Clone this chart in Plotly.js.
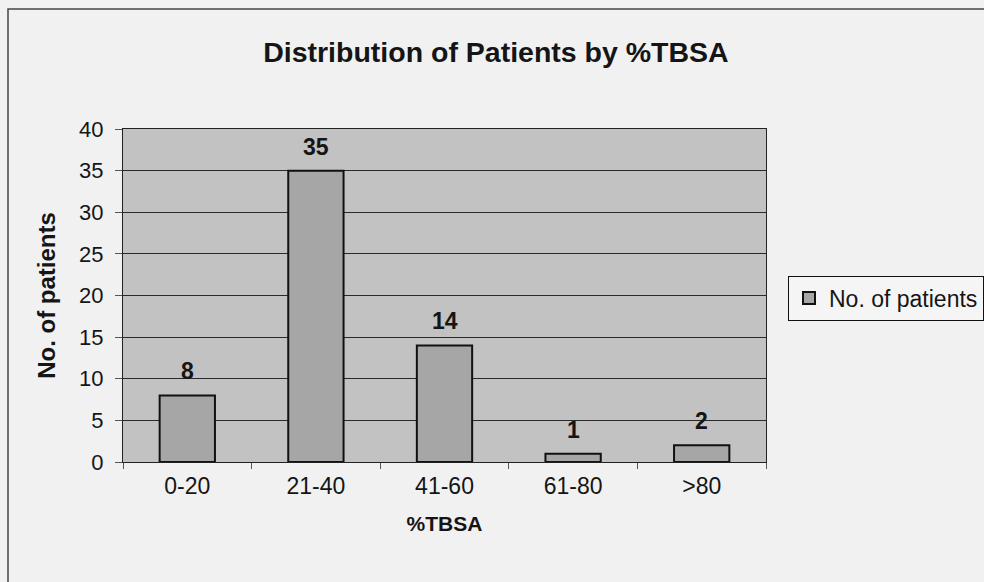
<!DOCTYPE html>
<html><head><meta charset="utf-8">
<script src="https://cdn.plot.ly/plotly-3.0.1.min.js"></script>
<style>html,body{margin:0;padding:0;background:#fff;}#c{width:984px;height:582px;}</style>
</head><body><div id="c"></div>
<script>
const categories = ["0-20", "21-40", "41-60", "61-80", ">80"];
const patients = [8, 35, 14, 1, 2];
const yTicks = [0, 5, 10, 15, 20, 25, 30, 35, 40];

const font = "Liberation Sans, Arial, sans-serif";
const trace = {
  type: "bar", x: categories, y: patients, name: "No. of patients",
  marker: {color: "#a6a6a6", line: {color: "#111", width: 2}},
  hoverinfo: "none"
};
const labels = categories.map((c, i) => ({
  x: c, y: patients[i], xref: "x", yref: "y", text: "<b>" + patients[i] + "</b>",
  showarrow: false, yanchor: "middle", yshift: 24,
  font: {family: font, size: 23, color: "#151515"}
}));
const L = 123, R = 766, T = 129, B = 462;
const W = R - L, H = B - T;
const layout = {
  width: 984, height: 582,
  margin: {l: L, r: 984 - R, t: T, b: 582 - B, autoexpand: false},
  paper_bgcolor: "#f1f1f1", plot_bgcolor: "#c2c2c2",
  font: {family: font, size: 22, color: "#151515"},
  title: {text: "<b>Distribution of Patients by %TBSA</b>", font: {size: 28.5, family: font, color: "#151515"},
          x: 0.504, xanchor: "center", y: 1 - 52/582, yanchor: "middle"},
  bargap: 0.57,
  showlegend: true,
  legend: {x: (788 - L)/W, y: (B - 298)/H, xanchor: "left", yanchor: "middle",
           bordercolor: "#111", borderwidth: 1, bgcolor: "#f5f5f5",
           itemwidth: 30, font: {size: 23, family: font}},
  xaxis: {type: "category", showgrid: false, ticks: "outside", tickson: "boundaries",
          ticklen: 6, tickcolor: "#555", showline: true, linecolor: "#222", linewidth: 1, mirror: true,
          ticklabelstandoff: 3,
          title: {text: "<b>%TBSA</b>", font: {size: 21}, standoff: 18},
          tickfont: {size: 23}},
  yaxis: {range: [0, 40], tickvals: yTicks, ticks: "outside", ticklen: 7, tickcolor: "#555",
          showgrid: true, gridcolor: "#2a2a2a", gridwidth: 1, zeroline: false,
          showline: true, linecolor: "#222", linewidth: 1, mirror: true,
          ticklabelstandoff: 7,
          title: {text: "<b>No. of patients</b>", font: {size: 24}, standoff: 16},
          tickfont: {size: 22}},
  annotations: labels,
  shapes: [{type: "rect", xref: "paper", yref: "paper",
            x0: (8 - L)/W, x1: 3, y0: -3, y1: (B - 9)/H,
            line: {color: "#444", width: 1.5}, fillcolor: "rgba(0,0,0,0)", layer: "below"}]
};
Plotly.newPlot("c", [trace], layout, {displayModeBar: false, staticPlot: true});
</script></body></html>
